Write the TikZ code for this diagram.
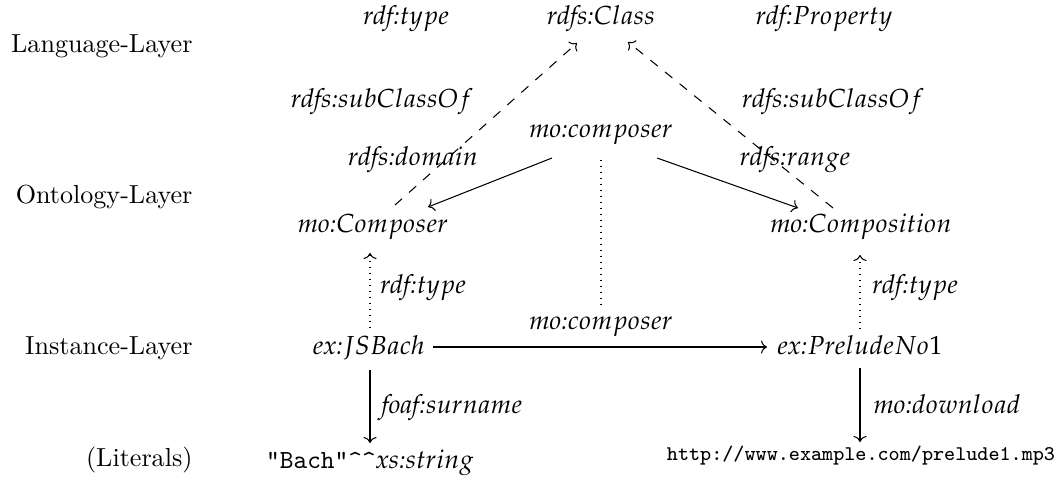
\documentclass[tikz,border=0pt]{standalone}
\usepackage{mathpazo}
\renewcommand{\rmdefault}{lmr}
\usetikzlibrary{arrows.meta}
\tikzset{
  lbl/.style={inner sep=0pt, anchor=base},
  layer/.style={inner sep=0pt, anchor=base east},
  rel/.style={draw, line width=0.4pt, -{Computer Modern Rightarrow[length=2.3pt,width=5pt]}},
  rdash/.style={rel, dash pattern=on 3.6pt off 3.6pt},
  rdot/.style={rel, dash pattern=on 0.4pt off 1.9pt},
  plaindot/.style={draw, line width=0.4pt, dash pattern=on 0.4pt off 1.9pt}
}
% qualified name: prefix and colon in italic, local name in math italic
\newcommand{\qn}[2]{$\mathit{#1\mathchar"703A}#2$}
\newcommand{\at}[3]{([shift={(#2,#3)}]#1.base)}
\begin{document}
\begin{tikzpicture}[x=0.3831pt, y=-0.3831pt]
\useasboundingbox (0,0) rectangle (1061,481);

% layer captions
\node[layer] (langL) at (193,53)  {Language-Layer};
\node[layer] (ontL)  at (193,204) {Ontology-Layer};
\node[layer] (instL) at (193,355) {Instance-Layer};
\node[layer] (litL)  at (193,467) {(Literals)};

% language layer
\node[lbl] (rdftype)  at (406,25) {\qn{rdf}{type}};
\node[lbl] (class)    at (601,25) {\qn{rdfs}{Class}};
\node[lbl] (property) at (824,25) {\qn{rdf}{Property}};

% ontology layer
\node[lbl] (subL)      at (382,108) {\qn{rdfs}{subClassOf}};
\node[lbl] (subR)      at (833,108) {\qn{rdfs}{subClassOf}};
\node[lbl] (composerP) at (601,138) {\qn{mo}{composer}};
\node[lbl] (domain)    at (413,166) {\qn{rdfs}{domain}};
\node[lbl] (range)     at (795,166) {\qn{rdfs}{range}};
\node[lbl] (composer)  at (373,233) {\qn{mo}{Composer}};
\node[lbl] (composition) at (861,233) {\qn{mo}{Composition}};

% instance layer
\node[lbl] (typeL)     at (423,294) {\qn{rdf}{type}};
\node[lbl] (typeR)     at (915,294) {\qn{rdf}{type}};
\node[lbl] (composerI) at (601,330) {\qn{mo}{composer}};
\node[lbl] (jsbach)    at (369,355) {\qn{ex}{JSBach}};
\node[lbl] (prelude)   at (860,355) {\qn{ex}{PreludeNo1}};
\node[lbl] (surname)   at (452,414) {\qn{foaf}{surname}};
\node[lbl] (download)  at (947,414) {\qn{mo}{download}};

% literals
\node[lbl] (bachlit) at (370,469) {\texttt{"Bach"\textasciicircum\textasciicircum}\qn{xs}{string}};
\node[lbl] (url)     at (861,461) {\footnotesize\texttt{http://www.example.com/prelude1.mp3}};

% subclass links
\draw[rdash] \at{composer}{22}{-28} -- \at{class}{-24}{18};
\draw[rdash] \at{composition}{-28}{-25} -- \at{class}{27}{17};

% domain and range of the property
\draw[rel] \at{composerP}{-49}{20} -- \at{composer}{55}{-26};
\draw[rel] \at{composerP}{56}{20} -- \at{composition}{-63}{-25};
\draw[plaindot] \at{composerP}{0}{22} -- \at{composerI}{0}{-25};

% typing of the instances
\draw[rdot] \at{jsbach}{1}{-27} -- \at{composer}{-3}{20};
\draw[rdot] \at{prelude}{0}{-26} -- \at{composition}{-1}{22};

% instance triples
\draw[rel] \at{jsbach}{64}{-8} -- \at{prelude}{-93}{-8};
\draw[rel] \at{jsbach}{1}{15} -- \at{bachlit}{0}{-26};
\draw[rel] \at{prelude}{0}{13} -- \at{url}{-1}{-19};
\end{tikzpicture}
\end{document}
